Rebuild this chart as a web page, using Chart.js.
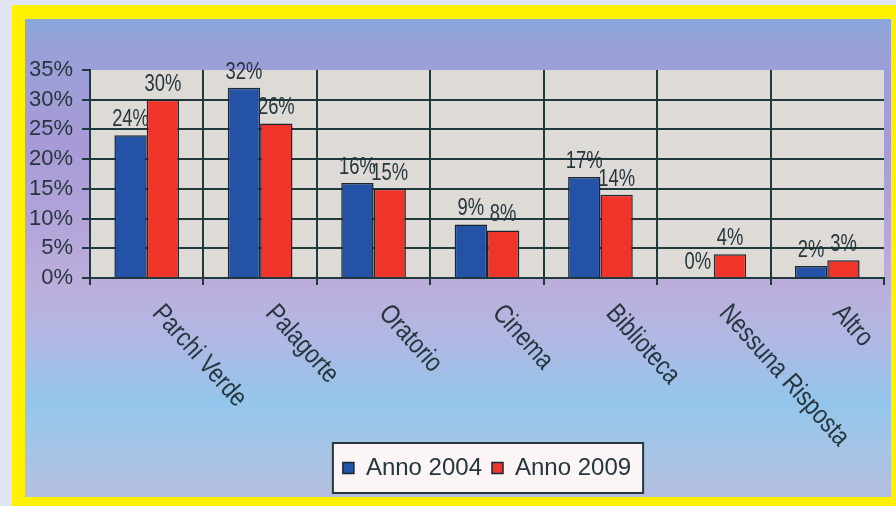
<!DOCTYPE html>
<html>
<head>
<meta charset="utf-8">
<script src="https://cdn.jsdelivr.net/npm/chart.js@4"></script>
<style>
  html, body { margin: 0; padding: 0; }
  body { width: 896px; height: 506px; background: #dfe5f2; position: relative; overflow: hidden; }
  .frame { position: absolute; left: 12px; top: 5px; width: 884px; height: 501px; background: #fff100; }
  .panel {
    position: absolute; left: 25px; top: 19px; width: 866px; height: 478px;
    background: linear-gradient(to bottom, #8aa8da 0px, #9aa0d8 30px, #a89ad6 130px, #bcaedc 265px, #b4b6e2 310px, #93c6ec 385px, #a6c4e6 430px, #b4bedf 478px);
  }
  canvas { position: absolute; left: 0; top: 0; }
</style>
</head>
<body>
<div class="frame"></div>
<div class="panel"></div>
<canvas id="myChart" width="896" height="506"></canvas>
<script>
const categories = ["Parchi Verde", "Palagorte", "Oratorio", "Cinema", "Biblioteca", "Nessuna Risposta", "Altro"];
const anno2004 = [24, 32, 16, 9, 17, 0, 2];
const anno2009 = [30, 26, 15, 8, 14, 4, 3];
const yTicks = [0, 5, 10, 15, 20, 25, 30, 35];

const FONT = "Arial, 'Liberation Sans', sans-serif";
const textColor = "#25363e";
const lineColor = "#1e3a3c";

// plot background + white box with border behind the legend
const legendBox = {
    id: "legendBox",
    beforeDraw: (chart) => {
        const ctx = chart.ctx;
        const a = chart.chartArea;
        ctx.save();
        ctx.fillStyle = "#dedad6";
        ctx.fillRect(a.left, a.top, a.right - a.left, a.bottom - a.top);

        const boxes = chart.legend.legendHitBoxes;
        if (boxes && boxes.length) {
            let l = Infinity, r = -Infinity, t = Infinity, b = -Infinity;
            boxes.forEach((h) => {
                l = Math.min(l, h.left);
                r = Math.max(r, h.left + h.width);
                t = Math.min(t, h.top);
                b = Math.max(b, h.top + h.height);
            });
            ctx.fillStyle = "#fbf6f5";
            ctx.strokeStyle = "#26383c";
            ctx.lineWidth = 2;
            ctx.fillRect(l - 10, t - 13, r - l + 22, b - t + 26);
            ctx.strokeRect(l - 10, t - 13, r - l + 22, b - t + 26);
        }
        ctx.restore();
    }
};

// value labels above bars and slanted category labels (a bit condensed)
const labelsPlugin = {
    id: "labelsPlugin",
    afterDraw: (chart) => {
        const ctx = chart.ctx;
        ctx.save();
        ctx.fillStyle = textColor;
        ctx.font = "23px " + FONT;
        ctx.textAlign = "center";
        ctx.textBaseline = "bottom";
        chart.data.datasets.forEach((ds, di) => {
            const meta = chart.getDatasetMeta(di);
            meta.data.forEach((bar, i) => {
                ctx.save();
                ctx.translate(bar.x, bar.y - 4);
                ctx.scale(0.8, 1);
                ctx.fillText(ds.data[i] + "%", 0, 0);
                ctx.restore();
            });
        });

        const xScale = chart.scales.x;
        ctx.font = "27px " + FONT;
        ctx.textAlign = "left";
        ctx.textBaseline = "middle";
        categories.forEach((c, i) => {
            const x = xScale.getPixelForValue(i) + 10;
            const y = xScale.top + 31;
            ctx.save();
            ctx.translate(x, y);
            ctx.rotate(48 * Math.PI / 180);
            ctx.scale(0.82, 1);
            ctx.fillText(c, 0, 0);
            ctx.restore();
        });
        ctx.restore();
    }
};

const ctx = document.getElementById("myChart").getContext("2d");
const myChart = new Chart(ctx, {
    type: "bar",
    data: {
        labels: categories,
        datasets: [
            {
                label: "Anno 2004",
                data: anno2004,
                backgroundColor: "#2352a6",
                borderColor: "#1a2630",
                borderWidth: 1.5,
                categoryPercentage: 0.57,
                barPercentage: 1.0
            },
            {
                label: "Anno 2009",
                data: anno2009,
                backgroundColor: "#f0342a",
                borderColor: "#1a2630",
                borderWidth: 1.5,
                categoryPercentage: 0.57,
                barPercentage: 1.0
            }
        ]
    },
    options: {
        responsive: false,
        animation: false,
        layout: { padding: { top: 70, right: 12, bottom: 16, left: 0 } },
        plugins: {
            tooltip: { enabled: false },
            legend: {
                position: "bottom",
                fullSize: false,
                labels: {
                    color: textColor,
                    font: { family: FONT, size: 24 },
                    boxWidth: 11,
                    boxHeight: 11,
                    padding: 10
                }
            }
        },
        scales: {
            x: {
                ticks: { display: false },
                grid: {
                    color: (c) => (c.type === "tick" && c.index > 0 ? lineColor : "rgba(0,0,0,0)"),
                    lineWidth: 2,
                    tickColor: lineColor,
                    tickLength: 7
                },
                border: { color: lineColor, width: 2 },
                afterFit: (scale) => { scale.height = 168; }
            },
            y: {
                min: 0,
                max: 35,
                afterBuildTicks: (scale) => { scale.ticks = yTicks.map((v) => ({ value: v })); },
                ticks: {
                    autoSkip: false,
                    color: textColor,
                    font: { family: FONT, size: 22 },
                    padding: 9,
                    callback: (v) => v + "%"
                },
                grid: {
                    color: (c) => (c.tick && c.tick.value === 35 ? "rgba(0,0,0,0)" : lineColor),
                    lineWidth: 2,
                    tickColor: lineColor,
                    tickLength: 8
                },
                border: { color: lineColor, width: 2 },
                afterFit: (scale) => { scale.width = 90; }
            }
        }
    },
    plugins: [legendBox, labelsPlugin]
});
</script>
</body>
</html>
